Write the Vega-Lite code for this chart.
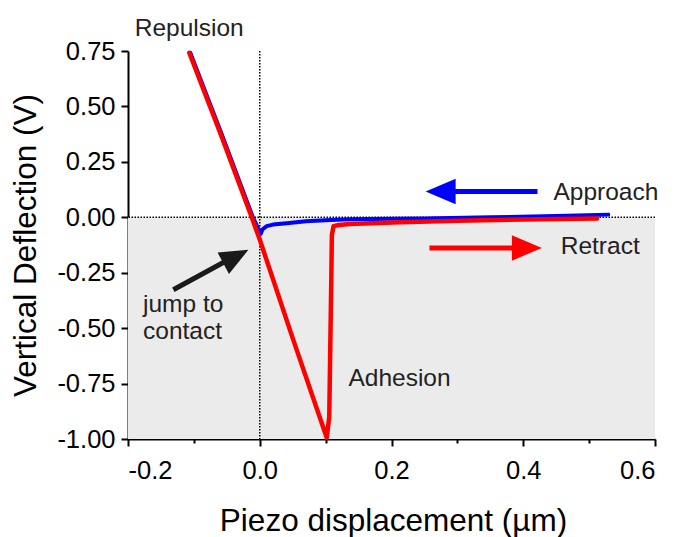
{
  "$schema": "https://vega.github.io/schema/vega-lite/v6.json",
  "width": 527,
  "height": 388,
  "autosize": {"type": "none"},
  "padding": {"left": 128, "top": 51, "right": 25, "bottom": 98},
  "background": "white",
  "config": {
    "view": {"stroke": null},
    "font": "Liberation Sans",
    "axis": {
      "domainColor": "black",
      "domainWidth": 2,
      "tickColor": "black",
      "tickWidth": 2,
      "labelColor": "black",
      "labelFont": "Liberation Sans",
      "labelFontSize": 25.5,
      "labelOverlap": false,
      "titleFont": "Liberation Sans",
      "titleFontSize": 31.5,
      "titleFontWeight": "normal",
      "titleColor": "black",
      "grid": false,
      "zindex": 1
    }
  },
  "datasets": {
    "approach": [
      {"t": 0, "x": 0.529, "y": 0.012},
      {"t": 1, "x": 0.45, "y": 0.006},
      {"t": 2, "x": 0.35, "y": 0.0},
      {"t": 3, "x": 0.25, "y": -0.005},
      {"t": 4, "x": 0.2, "y": -0.007},
      {"t": 5, "x": 0.137, "y": -0.009},
      {"t": 6, "x": 0.107, "y": -0.012},
      {"t": 7, "x": 0.07, "y": -0.018},
      {"t": 8, "x": 0.041, "y": -0.027},
      {"t": 9, "x": 0.02, "y": -0.033},
      {"t": 10, "x": 0.0106, "y": -0.04},
      {"t": 11, "x": 0.004, "y": -0.055},
      {"t": 12, "x": 0.0015, "y": -0.075},
      {"t": 13, "x": -0.0105, "y": 0.0},
      {"t": 14, "x": -0.0585, "y": 0.38},
      {"t": 15, "x": -0.1055, "y": 0.742}
    ],
    "retract": [
      {"t": 0, "x": -0.107, "y": 0.742},
      {"t": 1, "x": -0.06, "y": 0.38},
      {"t": 2, "x": -0.0122, "y": 0.0},
      {"t": 3, "x": 0.0005, "y": -0.105},
      {"t": 4, "x": 0.05, "y": -0.545},
      {"t": 5, "x": 0.1017, "y": -0.994},
      {"t": 6, "x": 0.1055, "y": -0.9},
      {"t": 7, "x": 0.107, "y": -0.6},
      {"t": 8, "x": 0.1085, "y": -0.3},
      {"t": 9, "x": 0.1095, "y": -0.08},
      {"t": 10, "x": 0.112, "y": -0.04},
      {"t": 11, "x": 0.12, "y": -0.035},
      {"t": 12, "x": 0.137, "y": -0.03},
      {"t": 13, "x": 0.213, "y": -0.022},
      {"t": 14, "x": 0.3, "y": -0.016},
      {"t": 15, "x": 0.4, "y": -0.01},
      {"t": 16, "x": 0.512, "y": -0.005}
    ]
  },
  "layer": [
    {
      "description": "shaded attractive region below zero deflection",
      "data": {"values": [{"x": -0.2, "x2": 0.6, "y": 0, "y2": -1}]},
      "mark": {"type": "rect", "color": "#ebebeb"},
      "encoding": {
        "x": {
          "field": "x", "type": "quantitative",
          "scale": {"domain": [-0.2, 0.6], "nice": false, "zero": false},
          "axis": {
            "orient": "bottom",
            "title": "Piezo displacement (µm)",
            "values": [-0.2, -0.1, 0, 0.1, 0.2, 0.3, 0.4, 0.5, 0.6],
            "labelExpr": "abs(round(datum.value * 10)) % 2 == 0 ? replace(format(datum.value, '.1f'), '\u2212', '-') : ''",
            "tickSize": {"condition": {"test": "abs(round(datum.value * 10)) % 2 == 0", "value": 7}, "value": 4},
            "labelPadding": 12,
            "titleX": 265,
            "titleY": 91,
            "titleBaseline": "alphabetic"
          }
        },
        "x2": {"field": "x2"},
        "y": {
          "field": "y", "type": "quantitative",
          "scale": {"domain": [-1, 0.75], "nice": false, "zero": false},
          "axis": {
            "orient": "left",
            "title": "Vertical Deflection (V)",
            "values": [-1, -0.875, -0.75, -0.625, -0.5, -0.375, -0.25, -0.125, 0, 0.125, 0.25, 0.375, 0.5, 0.625, 0.75],
            "labelExpr": "abs(round(datum.value * 8)) % 2 == 0 ? replace(format(datum.value, '.2f'), '\u2212', '-') : ''",
            "tickSize": {"condition": {"test": "abs(round(datum.value * 8)) % 2 == 0", "value": 7}, "value": 4},
            "labelPadding": 6,
            "titleAngle": -90,
            "titleX": -102,
            "titleY": 194,
            "titleAlign": "center",
            "titleBaseline": "middle"
          }
        },
        "y2": {"field": "y2"}
      }
    },
    {
      "description": "zero deflection reference",
      "data": {"values": [{"y": 0}]},
      "mark": {"type": "rule", "color": "black", "strokeWidth": 1.5, "strokeDash": [1.5, 1.5]},
      "encoding": {"y": {"field": "y", "type": "quantitative"}}
    },
    {
      "description": "contact point reference",
      "data": {"values": [{"x": 0}]},
      "mark": {"type": "rule", "color": "black", "strokeWidth": 1.5, "strokeDash": [1.5, 1.5]},
      "encoding": {"x": {"field": "x", "type": "quantitative"}}
    },
    {
      "data": {"name": "approach"},
      "mark": {"type": "line", "color": "#0000ff", "strokeWidth": 4, "strokeJoin": "round", "strokeCap": "round"},
      "encoding": {
        "x": {"field": "x", "type": "quantitative"},
        "y": {"field": "y", "type": "quantitative"},
        "order": {"field": "t"}
      }
    },
    {
      "data": {"name": "retract"},
      "mark": {"type": "line", "color": "#ff0000", "strokeWidth": 4.5, "strokeJoin": "round", "strokeCap": "round"},
      "encoding": {
        "x": {"field": "x", "type": "quantitative"},
        "y": {"field": "y", "type": "quantitative"},
        "order": {"field": "t"}
      }
    },
    {
      "description": "arrow shafts",
      "data": {"values": [
        {"arrow": "approach", "x": 0.4216, "y": 0.1158, "x2": 0.27, "y2": 0.1158},
        {"arrow": "retract", "x": 0.2576, "y": -0.138, "x2": 0.41, "y2": -0.138},
        {"arrow": "contact", "x": -0.1312, "y": -0.327, "x2": -0.04, "y2": -0.179}
      ]},
      "mark": {"type": "rule", "strokeWidth": 5},
      "encoding": {
        "x": {"field": "x", "type": "quantitative"},
        "y": {"field": "y", "type": "quantitative"},
        "x2": {"field": "x2"},
        "y2": {"field": "y2"},
        "color": {
          "field": "arrow", "type": "nominal", "legend": null,
          "scale": {"domain": ["approach", "retract", "contact"], "range": ["#0000ff", "#ff0000", "#1a1a1a"]}
        }
      }
    },
    {
      "description": "approach arrow head, pointing left",
      "data": {"values": [{"x": 0.2746, "y": 0.1158}]},
      "mark": {"type": "point", "shape": "M-1,0L1,-0.85L1,0.85Z", "size": 900, "filled": true, "color": "#0000ff", "opacity": 1, "strokeWidth": 0},
      "encoding": {
        "x": {"field": "x", "type": "quantitative"},
        "y": {"field": "y", "type": "quantitative"}
      }
    },
    {
      "description": "retract arrow head, pointing right",
      "data": {"values": [{"x": 0.4055, "y": -0.138}]},
      "mark": {"type": "point", "shape": "M1,0L-1,-0.85L-1,0.85Z", "size": 900, "filled": true, "color": "#ff0000", "opacity": 1, "strokeWidth": 0},
      "encoding": {
        "x": {"field": "x", "type": "quantitative"},
        "y": {"field": "y", "type": "quantitative"}
      }
    },
    {
      "description": "jump-to-contact arrow head",
      "data": {"values": [{"x": -0.0363, "y": -0.177}]},
      "mark": {"type": "point", "shape": "M1,0L-1,-0.85L-1,0.85Z", "size": 810, "angle": -28, "filled": true, "color": "#1a1a1a", "opacity": 1, "strokeWidth": 0},
      "encoding": {
        "x": {"field": "x", "type": "quantitative"},
        "y": {"field": "y", "type": "quantitative"}
      }
    },
    {
      "description": "annotations",
      "data": {"values": [
        {"label": "Repulsion", "x": -0.1898, "y": 0.8176},
        {"label": "Approach", "x": 0.4459, "y": 0.0797},
        {"label": "Retract", "x": 0.4569, "y": -0.165},
        {"label": "Adhesion", "x": 0.1346, "y": -0.7626},
        {"label": "jump to\ncontact", "x": -0.1772, "y": -0.428}
      ]},
      "mark": {"type": "text", "align": "left", "baseline": "alphabetic", "fontSize": 24.5, "font": "Liberation Sans", "color": "#222222", "lineBreak": "\n", "lineHeight": 27},
      "encoding": {
        "x": {"field": "x", "type": "quantitative"},
        "y": {"field": "y", "type": "quantitative"},
        "text": {"field": "label"}
      }
    }
  ]
}
